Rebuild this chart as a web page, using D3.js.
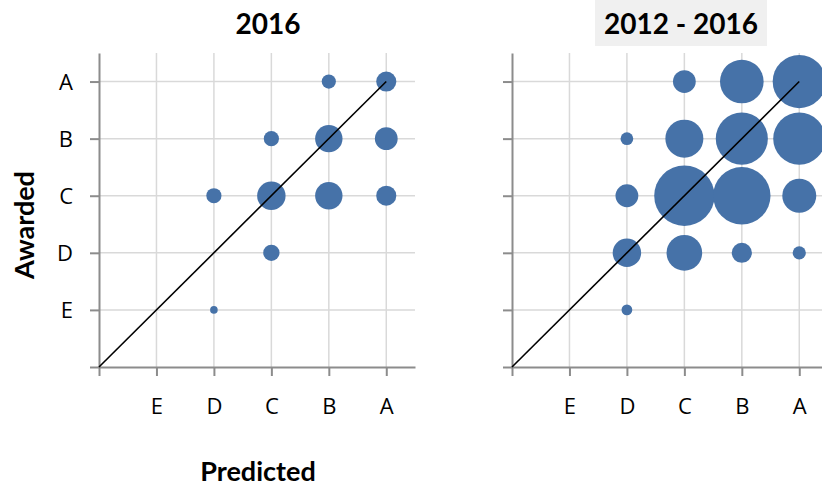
<!DOCTYPE html>
<html>
<head>
<meta charset="utf-8">
<script src="https://cdn.jsdelivr.net/npm/d3@7"></script>
<style>
  body { margin: 0; background: #fff; }
  svg { display: block; font-family: Lato, "Open Sans", sans-serif; }
</style>
</head>
<body>
<svg id="chart" width="822" height="488"></svg>
<script>
// Grade labels, position 1..5 on both axes (0 is the empty corner)
const grades = ["E", "D", "C", "B", "A"];

// 2016: predicted grade, awarded grade, number of students
const pred2016 = ["A", "B", "C", "B", "A", "D", "C", "B", "A", "C", "D"];
const award2016 = ["A", "A", "B", "B", "B", "C", "C", "C", "C", "D", "E"];
const count2016 = [7, 3.5, 4, 13, 9, 4, 14, 13, 7, 4.6, 1];

// 2012 - 2016
const predAll = ["C", "B", "A", "D", "C", "B", "A", "D", "C", "B", "A", "D", "C", "B", "A", "D"];
const awardAll = ["A", "A", "A", "B", "B", "B", "B", "C", "C", "C", "C", "D", "D", "D", "D", "E"];
const countAll = [9, 33, 49, 2.8, 25, 47, 47, 9, 63, 57, 20, 14, 22, 7, 3, 2];

const panels = [
  { title: "2016", pred: pred2016, award: award2016, count: count2016, left: 99, yLabels: true, highlight: false },
  { title: "2012 - 2016", pred: predAll, award: awardAll, count: countAll, left: 512, yLabels: false, highlight: true }
];

const plotTop = 53;
const plotW = 316;
const plotH = 314;
const blue = "#4672a8";

const svg = d3.select("#chart");

const x = d3.scaleLinear().domain([0, 5.5]).range([0, plotW]);
const y = d3.scaleLinear().domain([0, 5.5]).range([plotH, 0]);
const r = d3.scaleSqrt().domain([0, 1]).range([0, 3.8]);
const pos = g => grades.indexOf(g) + 1;
const ticks = [0, 1, 2, 3, 4, 5];
const label = v => (v === 0 ? "" : grades[v - 1]);

panels.forEach(p => {
  const g = svg.append("g").attr("transform", `translate(${p.left},${plotTop})`);

  // title
  const title = svg.append("text")
    .attr("x", p.left + plotW / 2 + 11)
    .attr("y", 34)
    .attr("text-anchor", "middle")
    .style("font-size", "28px")
    .style("font-weight", "bold")
    .text(p.title);
  if (p.highlight) {
    const bb = title.node().getBBox();
    svg.insert("rect", () => title.node())
      .attr("x", bb.x - 9)
      .attr("y", 0)
      .attr("width", bb.width + 18)
      .attr("height", 46)
      .attr("fill", "#f0f0f0");
  }

  // gridlines
  g.selectAll(".vgrid")
    .data(ticks.slice(1))
    .enter()
    .append("line")
    .attr("x1", d => x(d)).attr("x2", d => x(d))
    .attr("y1", 0).attr("y2", plotH)
    .attr("stroke", "#d9d9d9")
    .attr("stroke-width", 1.5);

  g.selectAll(".hgrid")
    .data(ticks.slice(1))
    .enter()
    .append("line")
    .attr("x1", 0).attr("x2", plotW)
    .attr("y1", d => y(d)).attr("y2", d => y(d))
    .attr("stroke", "#d9d9d9")
    .attr("stroke-width", 1.5);

  // axes
  const xAxis = g.append("g")
    .attr("transform", `translate(0,${plotH})`)
    .call(d3.axisBottom(x).tickValues(ticks).tickFormat(label).tickSize(9).tickSizeOuter(0).tickPadding(22));

  const yAxis = g.append("g")
    .call(d3.axisLeft(y).tickValues(ticks).tickFormat(p.yLabels ? label : () => "").tickSize(9).tickSizeOuter(0).tickPadding(17));

  [xAxis, yAxis].forEach(a => {
    a.selectAll("path, line").attr("stroke", "#8c8c8c").attr("stroke-width", 2);
    a.selectAll("text").style("font-size", "22px").attr("fill", "#000").style("font-family", "'Open Sans', sans-serif");
  });
  yAxis.selectAll("text").attr("dy", "0.36em");

  // bubbles
  g.selectAll(".bubble")
    .data(p.count.map((c, i) => ({ px: pos(p.pred[i]), ay: pos(p.award[i]), c })))
    .enter()
    .append("circle")
    .attr("cx", d => x(d.px))
    .attr("cy", d => y(d.ay))
    .attr("r", d => r(d.c))
    .attr("fill", blue);

  // predicted = awarded reference line
  g.append("line")
    .attr("x1", x(0)).attr("y1", y(0))
    .attr("x2", x(5)).attr("y2", y(5))
    .attr("stroke", "#000")
    .attr("stroke-width", 1.6);
});

// axis titles
svg.append("text")
  .attr("transform", "translate(34,225) rotate(-90)")
  .attr("text-anchor", "middle")
  .style("font-size", "27px")
  .style("font-weight", "bold")
  .text("Awarded");

svg.append("text")
  .attr("x", 258)
  .attr("y", 481)
  .attr("text-anchor", "middle")
  .style("font-size", "27px")
  .style("font-weight", "bold")
  .text("Predicted");
</script>
</body>
</html>
